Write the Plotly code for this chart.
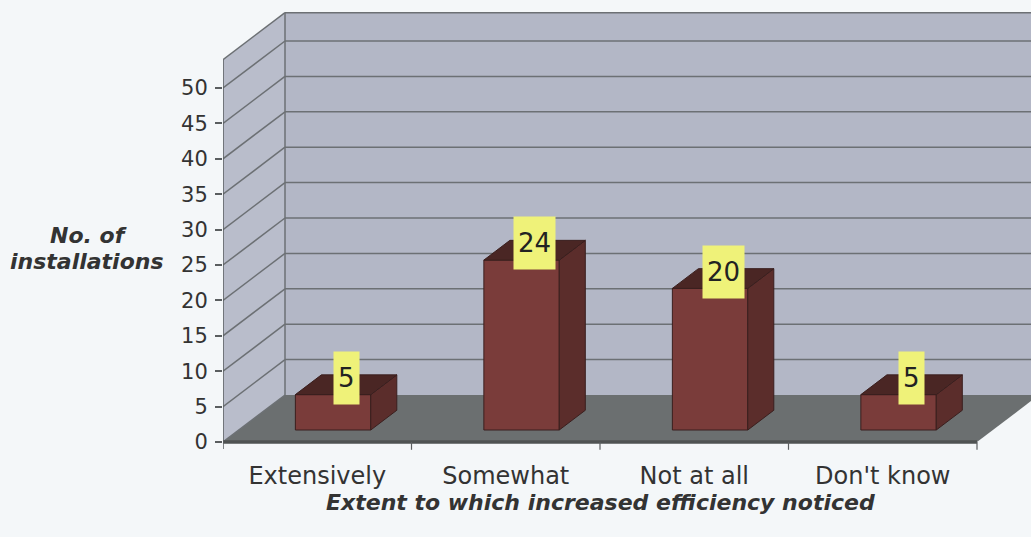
import plotly.graph_objects as go

# ---- data ----
categories = ["Extensively", "Somewhat", "Not at all", "Don't know"]
installations = [5, 24, 20, 5]
y_ticks = [0, 5, 10, 15, 20, 25, 30, 35, 40, 45, 50]
wall_top = 54

# ---- 3-D box geometry (in axis units) ----
W, H = 1031, 537
ML, MB = 223, 80                # plot-area margins (px)
PX_X = 188.5                    # px per category
PX_V = 7.08                     # px per installation
DX = 62 / PX_X                  # depth offset, x
DV = 47 / PX_V                  # depth offset, value
F0, F1 = 0.255, 0.675           # front/back depth fraction of the columns
BAR_W = 0.4
plot_h = H - MB
y_lo = -(plot_h - 442) / PX_V
y_hi = 442 / PX_V
x_hi = (W - ML) / PX_X
ncat = len(categories)

BG = "#f4f7f9"
WALL_BACK = "#b3b7c6"
WALL_SIDE = "#b9bdcb"
FLOOR = "#6b6f70"
GRID = "#6c7074"
FRONT = "#7a3c3a"
SIDE = "#5b2d2b"
TOP = "#4a2624"
EDGE = "#3a1f1e"
LABEL_BG = "#eff279"
TXT = "#333333"

fig = go.Figure()


def poly(xs, ys, fill, line_color=None, width=0):
    fig.add_trace(go.Scatter(
        x=list(xs) + [xs[0]], y=list(ys) + [ys[0]], mode="lines",
        fill="toself", fillcolor=fill,
        line=dict(color=line_color or fill, width=width),
        hoverinfo="skip", showlegend=False))


def seg(xs, ys, color=GRID, width=1.5):
    fig.add_trace(go.Scatter(
        x=xs, y=ys, mode="lines", line=dict(color=color, width=width),
        hoverinfo="skip", showlegend=False))


# side wall, back wall, floor
poly([0, DX, DX, 0], [0, DV, wall_top + DV, wall_top], WALL_SIDE)
poly([DX, ncat + DX + 1, ncat + DX + 1, DX],
     [DV, DV, wall_top + DV, wall_top + DV], WALL_BACK)
poly([0, ncat, ncat + DX, DX], [0, 0, DV, DV], FLOOR)

# gridlines on both walls
for v in y_ticks[1:] + [wall_top]:
    seg([0, DX], [v, v + DV])
    seg([DX, ncat + DX + 1], [v + DV, v + DV])
seg([DX, DX], [DV, wall_top + DV])
seg([0, DX], [0, DV])

# floor front edge, value axis line, category separators
seg([0, ncat], [0, 0], color="#4f5353", width=3.5)
seg([0, 0], [-1.0, wall_top], color="#5a5e60", width=1.5)
for k in range(1, ncat + 1):
    seg([k, k], [0, -1.1], color="#5a5e60", width=1.2)

# columns
for i, h in enumerate(installations):
    x0 = i + 0.5 - BAR_W / 2
    x1 = i + 0.5 + BAR_W / 2
    a, b = F0 * DX, F1 * DX
    c, d = F0 * DV, F1 * DV
    poly([x0 + a, x1 + a, x1 + a, x0 + a], [c, c, h + c, h + c], FRONT, EDGE, 1)
    poly([x1 + a, x1 + b, x1 + b, x1 + a], [c, d, h + d, h + c], SIDE, EDGE, 1)
    poly([x0 + a, x1 + a, x1 + b, x0 + b], [h + c, h + c, h + d, h + d], TOP, EDGE, 1)
    fm = (F0 + F1) / 2
    fig.add_annotation(
        x=i + 0.5 + fm * DX, y=h + fm * DV, xref="x", yref="y",
        text=str(h), showarrow=False, yshift=7,
        font=dict(family="DejaVu Sans", size=26, color="#222222"),
        bgcolor=LABEL_BG, borderpad=4, height=44, valign="middle")

# axis titles
fig.add_annotation(
    text="No. of", xref="paper", yref="paper",
    x=(88 - ML) / (W - ML), y=(plot_h - 235) / plot_h,
    xanchor="center", yanchor="middle", showarrow=False,
    font=dict(family="DejaVu Sans", size=22, color=TXT, weight="bold", style="italic"))
fig.add_annotation(
    text="installations", xref="paper", yref="paper",
    x=(87 - ML) / (W - ML), y=(plot_h - 261) / plot_h,
    xanchor="center", yanchor="middle", showarrow=False,
    font=dict(family="DejaVu Sans", size=22, color=TXT, weight="bold", style="italic"))
fig.add_annotation(
    text="Extent to which increased efficiency noticed",
    xref="paper", yref="paper",
    x=(600 - ML) / (W - ML), y=(plot_h - 502) / plot_h,
    xanchor="center", yanchor="middle", showarrow=False,
    font=dict(family="DejaVu Sans", size=22, color=TXT, weight="bold", style="italic"))

fig.update_layout(
    width=W, height=H,
    margin=dict(l=ML, r=0, t=0, b=MB),
    paper_bgcolor=BG, plot_bgcolor=BG,
    showlegend=False,
    xaxis=dict(range=[0, x_hi], showgrid=False, zeroline=False, showline=False,
               tickmode="array", tickvals=[i + 0.5 for i in range(ncat)],
               ticktext=categories, ticks="", ticklabelstandoff=2,
               tickfont=dict(family="DejaVu Sans", size=24, color=TXT),
               fixedrange=True),
    yaxis=dict(range=[y_lo, y_hi], showgrid=False, zeroline=False, showline=False,
               tickmode="array", tickvals=y_ticks, ticks="outside", ticklen=7,
               tickcolor="#5a5e60", tickwidth=1.5, ticklabelstandoff=3,
               tickfont=dict(family="DejaVu Sans", size=21, color=TXT),
               fixedrange=True),
)

fig.write_html("out.html")
